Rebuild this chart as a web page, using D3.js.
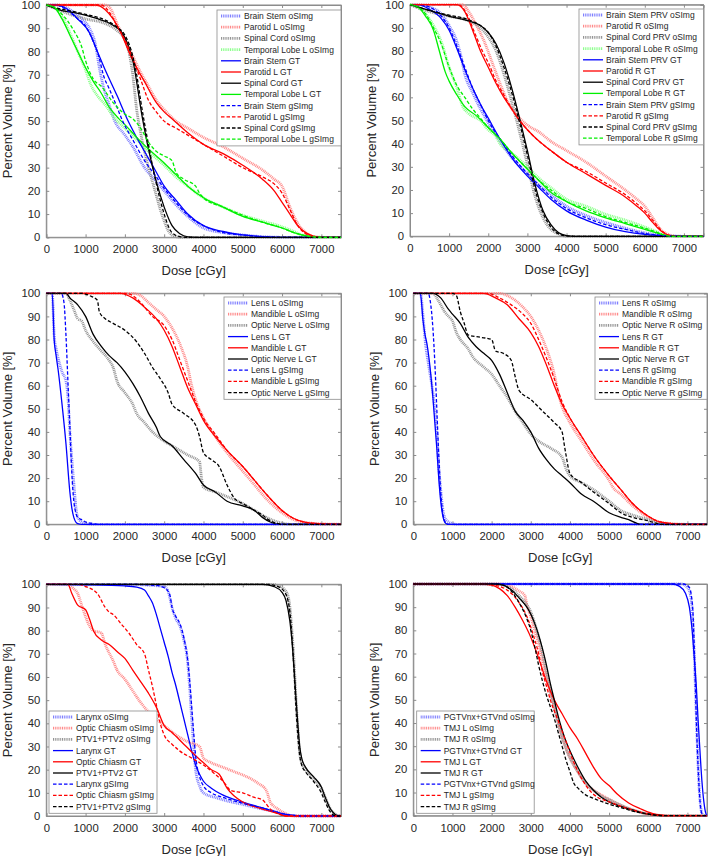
<!DOCTYPE html>
<html>
<head>
<meta charset="utf-8">
<script src="https://cdn.jsdelivr.net/npm/d3@7"></script>
<style>
  body { margin: 0; background: #fff; }
  svg { display: block; font-family: "Liberation Sans", Arial, sans-serif; }
</style>
</head>
<body>
<div id="chart"></div>
<script>
// ---- tick values ----
const doseTicks = [0, 1000, 2000, 3000, 4000, 5000, 6000, 7000];
const volumeTicks = [0, 10, 20, 30, 40, 50, 60, 70, 80, 90, 100];

// ---- panel 1 : brain stem / parotid L / spinal cord / temporal lobe L ----
const p1BrainStemO = [[0,100],[300,100],[600,98],[900,94],[1100,90],[1250,83],[1350,73],[1450,65],[1600,57],[1730,50.5],[2000,44],[2200,39],[2500,30],[2800,24],[3000,20],[3300,14],[3600,9],[4000,4],[4500,2],[5000,1],[5500,0.3],[6000,0],[7500,0]];
const p1ParotidLO = [[0,100],[1500,100],[1650,98],[1800,92],[2000,85],[2200,78],[2400,71],[2600,65],[2800,59],[3000,55],[3300,50],[3600,47],[4000,43],[4500,39],[5000,34],[5500,29],[5800,25],[6000,22],[6200,13],[6400,6],[6600,2],[6800,0.3],[7000,0],[7500,0]];
const p1SpinalCordO = [[0,100],[300,98],[600,96],[1000,94],[1500,92],[1800,89],[2000,85],[2100,80],[2200,70],[2300,55],[2400,45],[2500,37],[2600,30],[2700,24],[2800,18],[2900,12],[3000,7],[3100,3],[3200,1],[3400,0],[7500,0]];
const p1TemporalLO = [[0,100],[200,99],[400,95],[600,88],[800,80],[1000,72],[1150,65],[1300,61],[1500,57],[1750,51],[2000,47],[2300,42],[2600,37],[3000,31],[3300,26],[3600,22],[4000,17],[4500,13],[5000,9.5],[5500,7],[6000,4.5],[6300,2.5],[6500,1],[6800,0.2],[7000,0],[7500,0]];
const p1BrainStemGT = [[0,100],[250,100],[500,98.6],[800,94],[1100,88],[1300,80],[1500,72],[1800,61],[2070,50.5],[2300,43],[2600,34],[2800,28],[3000,22],[3300,16],[3600,10],[4000,5],[4500,2.5],[5000,1],[5500,0.3],[6000,0],[7500,0]];
const p1ParotidLGT = [[0,100],[1250,100],[1500,98],[1700,94],[1900,88],[2150,78],[2300,73],[2500,67],[2800,58],[3000,54],[3200,51],[3600,45],[4000,40],[4500,36],[5000,31],[5500,25],[5800,20],[6000,15],[6200,10],[6400,5],[6600,2],[6800,0.5],[7000,0],[7500,0]];
const p1SpinalCordGT = [[0,100],[300,98],[800,96.4],[1260,94.3],[1690,91.4],[1940,87.8],[2200,76.3],[2450,51],[2600,38],[2800,24],[3000,13],[3200,5],[3400,1.5],[3600,0.2],[3800,0],[7500,0]];
const p1TemporalLGT = [[0,100],[200,99],[400,94],[600,87],[800,80],[1000,73],[1200,67],[1400,62],[1600,56],[1850,51],[2000,48.5],[2300,43],[2600,38],[3000,32],[3300,27],[3600,22],[4000,17],[4500,13],[5000,9],[5500,6.5],[6000,4],[6300,2],[6500,1],[6800,0.2],[7000,0],[7500,0]];
const p1BrainStemG = [[0,100],[250,100],[500,98],[800,94],[1000,91],[1200,84],[1350,77],[1450,70],[1600,64],[1800,56],[1930,50.5],[2200,42],[2500,33],[2800,26],[3000,21],[3300,15],[3600,9.5],[4000,5],[4500,2],[5000,1],[5500,0.3],[6000,0],[7500,0]];
const p1ParotidLG = [[0,100],[1400,100],[1600,97],[1800,91],[2000,85],[2200,77],[2400,68],[2600,59],[2800,54],[3000,50],[3300,47],[3600,44],[4000,40],[4500,35],[5000,30],[5500,26],[5800,23],[6000,19],[6200,12],[6400,5],[6600,1.5],[6800,0.3],[7000,0],[7500,0]];
const p1SpinalCordG = [[0,100],[300,98.5],[600,97.5],[1000,96],[1500,93.5],[1800,90.5],[2000,87],[2200,78],[2300,70],[2400,59],[2500,49],[2600,40],[2700,31],[2800,23],[2900,16],[3000,10],[3100,5],[3200,2],[3400,0.3],[3600,0],[7500,0]];
const p1TemporalLG = [[0,100],[200,99],[400,96],[550,93],[700,89],[900,82],[1000,76],[1200,68],[1400,65],[1700,58],[2000,53],[2200,51],[2400,47],[2600,41],[2800,37],[3000,35],[3200,33],[3300,28],[3500,25],[3800,22],[3900,19],[4000,17],[4500,13],[5000,9.5],[5500,6.5],[6000,4],[6300,2],[6500,1],[6800,0.2],[7000,0],[7500,0]];

// ---- panel 2 : PRVs / parotid R / temporal lobe R ----
const p2BrainStemO = [[0,100],[200,100],[500,99],[800,96],[1000,91],[1200,84],[1300,78],[1400,70],[1600,62],[1800,55],[2000,49],[2300,41],[2600,34],[3000,27],[3300,22],[3600,18],[4000,13],[4500,9],[5000,6],[5500,3.5],[6000,1.5],[6500,0.5],[7000,0],[7500,0]];
const p2ParotidRO = [[0,100],[1350,100],[1500,97],[1700,91],[1900,84],[2100,75],[2300,66],[2500,58],[2700,53],[3000,48],[3300,45],[3600,41],[4000,37],[4500,32],[5000,26],[5500,20],[5800,16],[6000,13],[6200,8],[6400,3],[6600,0.8],[6800,0],[7500,0]];
const p2SpinalCordO = [[0,100],[300,98],[600,96.5],[1000,95],[1500,93],[1800,90],[2000,86],[2200,80],[2400,70],[2600,58],[2800,45],[3000,31],[3200,17],[3400,8],[3600,3],[3800,1],[4000,0],[7500,0]];
const p2TemporalRO = [[0,100],[200,99],[400,96],[600,91],[800,84],[1000,73],[1200,64],[1350,56],[1500,53],[1800,50],[2000,46],[2200,43],[2300,40],[2600,36],[3000,30],[3300,25],[3600,21],[4000,16],[4500,13],[5000,9.5],[5500,7],[6000,4],[6300,2],[6500,0.5],[6700,0],[7500,0]];
const p2BrainStemGT = [[0,100],[200,100],[500,98],[800,94],[1000,89],[1200,81],[1400,72],[1600,64],[1800,57],[2000,51],[2300,42],[2600,34],[3000,26],[3300,21],[3600,16],[4000,11],[4500,7],[5000,4],[5500,2],[6000,0.8],[6500,0.2],[7000,0],[7500,0]];
const p2ParotidRGT = [[0,100],[1200,100],[1400,97],[1600,89],[1800,80],[2000,73],[2200,66],[2400,60],[2600,55],[2800,50],[3000,46],[3300,41],[3600,37],[4000,32],[4500,27],[5000,22],[5500,17],[5800,13],[6000,10],[6200,6],[6400,2.5],[6600,0.5],[6800,0],[7500,0]];
const p2SpinalCordGT = [[0,100],[300,98.5],[600,97],[1000,95],[1500,93],[1800,91],[2000,88],[2200,83],[2400,75],[2600,64],[2800,51],[3000,37],[3200,22],[3400,11],[3600,5],[3800,1.5],[4000,0.3],[4200,0],[7500,0]];
const p2TemporalRGT = [[0,100],[200,99],[400,95],[600,89],[750,80],[900,71],[1000,67],[1200,61],[1400,56],[1700,52],[2000,47],[2300,42],[2600,36],[3000,29],[3300,24],[3600,19],[4000,15],[4500,11],[5000,8],[5500,5.5],[6000,3],[6300,1.5],[6500,0.5],[6700,0],[7500,0]];
const p2BrainStemG = [[0,100],[200,100],[500,99],[800,95],[1000,90],[1200,82],[1400,73],[1600,64],[1800,57],[2000,50],[2300,42],[2600,35],[3000,27],[3300,22],[3600,17],[4000,12],[4500,8],[5000,5],[5500,3],[6000,1.2],[6500,0.3],[7000,0],[7500,0]];
const p2ParotidRG = [[0,100],[1250,100],[1450,96],[1650,88],[1850,80],[2000,75],[2200,67],[2400,61],[2600,55],[2800,50],[3000,46],[3300,41],[3600,37],[4000,32],[4500,28],[5000,23],[5500,18],[5800,14],[6000,11],[6200,7],[6400,3],[6600,0.5],[6800,0],[7500,0]];
const p2SpinalCordG = [[0,100],[300,98.5],[600,97],[1000,95.5],[1500,93.5],[1800,91],[2000,88],[2200,82],[2400,73],[2600,62],[2800,49],[3000,35],[3200,20],[3400,10],[3600,4],[3800,1],[4000,0.2],[4200,0],[7500,0]];
const p2TemporalRG = [[0,100],[200,99],[400,96],[600,90],[800,83],[1000,73],[1200,65],[1400,60],[1600,55],[1800,51],[2000,47],[2300,42],[2600,36],[3000,29],[3300,24],[3600,20],[4000,15],[4500,12],[5000,8.5],[5500,6],[6000,3.5],[6300,1.8],[6500,0.5],[6700,0],[7500,0]];

// ---- panel 3 : lens L / mandible L / optic nerve L ----
const p3LensLO = [[0,100],[150,100],[200,82],[250,76],[300,72],[400,66],[500,62],[550,55],[600,40],[650,28],[700,18],[750,8],[800,3],[900,1],[1000,0.3],[1200,0],[7500,0]];
const p3MandibleLO = [[0,100],[2200,100],[2400,99],[2600,96],[2800,93],[3000,90],[3200,85],[3400,78],[3600,68],[3700,60],[3800,54],[4000,46],[4300,38],[4600,31],[5000,23],[5300,17],[5600,11],[6000,5],[6300,2],[6600,0.8],[7000,0.2],[7500,0]];
const p3OpticNerveLO = [[0,100],[500,100],[600,97],[700,93],[800,89],[900,88],[1000,84],[1200,79],[1400,75],[1600,71],[1700,68],[1800,62],[2000,57],[2200,52],[2300,48],[2500,44],[2700,40],[3000,36],[3300,33],[3600,30],[3900,27],[3950,20],[4000,16],[4300,14],[4600,12],[5000,9],[5300,6],[5600,3],[5800,1.5],[6000,0.5],[6200,0],[7500,0]];
const p3LensLGT = [[0,100],[150,100],[200,80],[250,73],[300,67],[400,52],[500,35],[600,14],[650,7],[700,3],[750,1],[800,0.3],[900,0],[7500,0]];
const p3MandibleLGT = [[0,100],[1900,100],[2200,98],[2500,94],[2800,89],[3000,84],[3200,77],[3400,68],[3600,59],[3800,52],[4000,45],[4300,38],[4600,32],[5000,25],[5300,19],[5600,13],[6000,6],[6300,2.5],[6600,0.8],[7000,0.2],[7500,0]];
const p3OpticNerveLGT = [[0,100],[500,100],[600,98],[800,95],[1000,90],[1200,82],[1400,77],[1600,73],[1800,70],[2000,66],[2200,61],[2400,55],[2600,48],[2800,42],[2900,38],[3200,34],[3500,28],[3800,22],[4000,17],[4300,14],[4600,10],[5000,8],[5300,6],[5500,3],[5700,1],[5900,0],[7500,0]];
const p3LensLG = [[0,100],[380,100],[450,96],[500,82],[550,62],[600,42],[650,22],[700,10],[750,5],[800,3],[900,2],[1000,1],[1200,0.3],[1300,0],[7500,0]];
const p3MandibleLG = [[0,100],[2000,100],[2200,99],[2400,96],[2700,90],[3000,86],[3200,80],[3400,71],[3600,62],[3800,53],[4000,46],[4300,39],[4600,32],[5000,25],[5300,19],[5600,13],[6000,6],[6300,2.5],[6600,0.8],[7000,0.2],[7500,0]];
const p3OpticNerveLG = [[0,100],[900,100],[1100,99],[1300,97],[1350,92],[1500,89],[1700,87],[2000,84],[2300,79],[2500,74],[2700,68],[2900,63],[3100,57],[3200,52],[3500,48],[3800,43],[3900,38],[4000,31],[4200,28],[4400,25],[4600,17],[4800,11],[5000,9],[5300,6],[5500,4],[5700,1.5],[5900,0.3],[6100,0],[7500,0]];

// ---- panel 4 : lens R / mandible R / optic nerve R ----
const p4LensRO = [[0,100],[180,100],[250,90],[300,80],[400,68],[500,57],[600,40],[650,25],[700,15],[750,7],[800,3],[900,1],[1000,0.3],[1100,0],[7500,0]];
const p4MandibleRO = [[0,100],[2200,100],[2400,99],[2600,97],[2800,94],[3000,90],[3200,84],[3400,76],[3600,65],[3700,57],[3800,51],[4000,44],[4300,36],[4600,28],[5000,19],[5100,16],[5300,13],[5600,8],[6000,3],[6300,1],[6600,0.3],[7000,0],[7500,0]];
const p4OpticNerveRO = [[0,100],[500,100],[600,98],[700,95],[800,92],[900,90],[1000,88],[1100,83],[1200,80],[1400,76],[1500,73],[1800,68],[2000,65],[2200,60],[2400,55],[2600,49],[2800,44],[3000,39],[3200,36],[3500,33],[3800,29],[3900,24],[4000,21],[4300,18],[4600,15],[5000,10],[5300,6],[5600,4],[6000,2],[6300,0.5],[6500,0],[7500,0]];
const p4LensRGT = [[0,100],[180,100],[250,88],[300,82],[350,78],[400,72],[500,55],[600,33],[650,20],[700,10],[750,4],[800,1],[850,0.2],[900,0],[7500,0]];
const p4MandibleRGT = [[0,100],[1800,100],[2100,98],[2400,95],[2700,89],[3000,83],[3200,77],[3400,69],[3600,60],[3800,52],[4000,46],[4300,38],[4600,30],[5000,21],[5300,15],[5600,9],[6000,3.5],[6300,1],[6600,0.3],[7000,0],[7500,0]];
const p4OpticNerveRGT = [[0,100],[500,100],[700,98],[900,93],[1000,91],[1200,87],[1400,81],[1600,77],[1800,74],[2000,71],[2200,65],[2400,57],[2600,49],[2800,45],[3000,40],[3200,33],[3400,28],[3600,24],[3800,21],[4000,18],[4300,13],[4600,10],[5000,5],[5300,3],[5500,2],[5700,0.5],[5800,0],[7500,0]];
const p4LensRG = [[0,100],[380,100],[430,97],[500,85],[550,70],[600,50],[650,30],[700,14],[750,5],[800,1.5],[850,0.3],[900,0],[7500,0]];
const p4MandibleRG = [[0,100],[1900,100],[2200,98],[2500,95],[2800,91],[3000,87],[3200,80],[3400,72],[3600,63],[3800,53],[4000,46],[4300,38],[4600,30],[5000,21],[5300,15],[5600,9],[6000,3.5],[6300,1],[6600,0.3],[7000,0],[7500,0]];
const p4OpticNerveRG = [[0,100],[1000,100],[1100,99],[1200,92],[1300,87],[1400,82],[1700,81],[2000,80],[2100,75],[2300,74],[2500,71],[2600,64],[2700,58],[3000,54],[3300,49],[3600,44],[3800,40],[3850,35],[3900,30],[4000,22],[4300,18],[4600,14],[5000,9],[5300,5],[5600,3],[6000,1.5],[6200,0.5],[6300,0],[7500,0]];

// ---- panel 5 : larynx / optic chiasm / PTV ----
const p5LarynxO = [[0,100],[2000,100],[2700,99.5],[3000,99],[3100,97],[3200,90],[3300,85],[3400,82],[3500,76],[3600,66],[3650,55],[3700,42],[3750,30],[3800,20],[3900,13],[4000,10],[4300,8],[4600,6.5],[5000,5],[5500,3],[5800,2],[6000,1],[6200,0.3],[6500,0],[7500,0]];
const p5ChiasmO = [[0,100],[500,100],[700,98],[800,96],[900,91],[1000,86],[1100,82],[1200,80],[1400,79],[1500,74],[1700,67],[1800,63],[2000,59],[2200,54],[2400,49],[2600,45],[2800,42],[3000,39],[3300,35],[3600,32],[3900,30],[4000,25],[4200,23],[4500,21],[4800,19],[5100,17],[5400,14],[5600,11],[5700,6],[5900,3],[6100,1],[6300,0],[7500,0]];
const p5PtvO = [[0,100],[5700,100],[5900,99.5],[6050,98],[6150,95],[6200,90],[6250,80],[6300,68],[6350,52],[6400,38],[6450,27],[6500,23],[6600,20],[6800,16],[7000,12],[7100,8],[7200,4],[7300,1.5],[7400,0.3],[7500,0]];
const p5LarynxGT = [[0,100],[1000,99.8],[2000,99.3],[2300,98.8],[2500,97.5],[2600,95],[2700,92],[2800,87],[2900,81],[3000,75],[3100,69],[3200,62],[3300,56],[3400,49],[3500,42],[3600,35],[3700,28],[3800,22],[3900,18],[4000,15],[4200,12],[4500,9],[5000,6],[5500,3.5],[5800,2],[6000,1],[6300,0.3],[6500,0],[7500,0]];
const p5ChiasmGT = [[0,100],[550,100],[650,96],[800,91],[1000,89],[1100,85],[1200,80],[1400,76],[1600,74],[1800,71],[2000,68],[2200,63],[2400,58],[2600,53],[2800,47],[3000,39],[3200,36],[3500,31],[3800,26],[4000,23],[4200,20],[4400,18],[4600,12],[5000,6],[5300,4],[5600,2.5],[5900,1],[6100,0],[7500,0]];
const p5PtvGT = [[0,100],[5500,100],[5800,99],[6000,96.5],[6100,93],[6200,84],[6250,76],[6300,65],[6350,52],[6400,40],[6450,30],[6500,25],[6600,21],[6800,17],[7000,12.5],[7100,8],[7200,4],[7300,1.5],[7400,0.2],[7500,0]];
const p5LarynxG = [[0,100],[2000,100],[2800,99.5],[3000,98.5],[3100,97],[3150,95],[3200,90],[3300,86],[3400,83],[3500,77],[3600,67],[3650,58],[3700,47],[3750,36],[3800,26],[3900,17],[4000,13],[4200,10],[4500,8],[5000,5.5],[5500,3.5],[5800,2],[6000,1],[6300,0.3],[6500,0],[7500,0]];
const p5ChiasmG = [[0,100],[800,100],[1000,99],[1200,97.5],[1300,96],[1500,90],[1600,88],[1700,87],[1900,83],[2100,79],[2300,74],[2500,70],[2600,63],[2700,56],[2800,48],[2900,40],[3000,35],[3200,31],[3400,28],[3700,25],[4000,22],[4300,18],[4500,15],[4700,11],[5000,10],[5300,8],[5500,7],[5700,3],[5900,1],[6100,0],[7500,0]];
const p5PtvG = [[0,100],[5600,100],[5900,99],[6050,97],[6150,93],[6200,88],[6250,78],[6300,64],[6350,48],[6400,35],[6450,26],[6500,22],[6600,19],[6800,15],[7000,10],[7100,6],[7200,2.5],[7300,0.5],[7400,0],[7500,0]];

// ---- panel 6 : PGTV / TMJ L / TMJ R ----
const p6PgtvO = [[0,100],[6850,100],[7000,98.5],[7080,95],[7130,87],[7170,72],[7210,52],[7250,32],[7290,15],[7330,5],[7370,1],[7400,0],[7500,0]];
const p6TmjLO = [[0,100],[2200,100],[2500,99],[2700,97],[2850,95],[2900,91],[3000,86],[3100,80],[3200,74],[3300,67],[3400,60],[3500,53],[3600,47],[3700,40],[3800,34],[3900,29],[4000,25],[4200,19],[4400,14],[4600,11],[4800,9],[5000,7],[5300,4.5],[5600,2.5],[5900,1],[6200,0.3],[6500,0],[7500,0]];
const p6TmjRO = [[0,100],[2000,100],[2300,99.5],[2500,98],[2700,95],[2900,91],[3000,88],[3100,83],[3200,77],[3300,70],[3400,62],[3500,54],[3600,47],[3700,40],[3800,34],[3900,29],[4000,25],[4200,19],[4400,14],[4600,11],[4800,8.5],[5000,7],[5300,4.5],[5600,2.5],[5900,1],[6200,0.2],[6400,0],[7500,0]];
const p6PgtvGT = [[0,100],[6600,100],[6800,99],[6950,96],[7050,90],[7120,80],[7180,67],[7230,55],[7270,42],[7320,28],[7370,15],[7420,6],[7470,1],[7500,0]];
const p6TmjLGT = [[0,100],[1700,100],[2000,99.5],[2200,98],[2400,95],[2600,90],[2800,84],[3000,77],[3200,68],[3400,58],[3600,50],[3800,44],[4000,38],[4200,33],[4400,27],[4600,21],[4800,16],[5000,13],[5200,9.5],[5500,5.5],[5800,3],[6100,1],[6300,0.3],[6500,0],[7500,0]];
const p6TmjRGT = [[0,100],[2100,100],[2300,99.5],[2500,97.5],[2700,94],[2900,90],[3000,87],[3100,83],[3200,78],[3300,72],[3400,65],[3500,57],[3600,50],[3700,43],[3800,37],[3900,32],[4000,28],[4200,21],[4400,15],[4600,11],[4800,8],[5000,6],[5300,4],[5600,2.5],[5900,1],[6200,0.2],[6400,0],[7500,0]];
const p6PgtvG = [[0,100],[6900,100],[7050,98.5],[7100,95],[7140,88],[7170,75],[7200,58],[7230,40],[7270,22],[7310,9],[7340,3],[7380,0.5],[7400,0],[7500,0]];
const p6TmjLG = [[0,100],[1800,100],[2200,99],[2500,96],[2700,92],[2900,86],[3100,76],[3200,70],[3300,62],[3400,56],[3500,50],[3700,41],[3900,32],[4100,23],[4300,16],[4500,11],[4700,8],[5000,6],[5300,4],[5600,2.5],[5900,1],[6200,0.2],[6400,0],[7500,0]];
const p6TmjRG = [[0,100],[2100,100],[2300,99.5],[2500,97],[2700,92],[2900,85],[3000,80],[3100,73],[3200,65],[3300,58],[3400,52],[3500,47],[3600,42],[3700,36],[3800,30],[3900,24],[4000,19],[4100,14],[4200,12],[4400,9],[4600,7.5],[5000,5],[5300,3.5],[5600,2],[5900,1],[6200,0.2],[6400,0],[7500,0]];

// full colours for GT / gSImg, pale ones for the thick dotted oSImg curves
const COLORS = {
    blue:  { full: "#0000ff", pale: "#8080ff" },
    red:   { full: "#ff0000", pale: "#ff8a8a" },
    black: { full: "#000000", pale: "#959595" },
    green: { full: "#00f000", pale: "#8cff8c" }
};

const STYLES = {
    o:  { width: 2.8, dash: "1 0.8", pale: true },
    gt: { width: 1.3, dash: null,    pale: false },
    g:  { width: 1.3, dash: "3.5 2", pale: false }
};

// each panel: plot box in page pixels, legend box and its entries (legend order = draw order)
const PANELS = [
    { x0: 46.3, x1: 341, y0: 5, y1: 237.3, legend: { x: 217, y: 10, w: 124 },
      series: [
        ["Brain Stem oSImg", p1BrainStemO, "blue", "o"],
        ["Parotid L oSImg", p1ParotidLO, "red", "o"],
        ["Spinal Cord oSImg", p1SpinalCordO, "black", "o"],
        ["Temporal Lobe L oSImg", p1TemporalLO, "green", "o"],
        ["Brain Stem GT", p1BrainStemGT, "blue", "gt"],
        ["Parotid L GT", p1ParotidLGT, "red", "gt"],
        ["Spinal Cord GT", p1SpinalCordGT, "black", "gt"],
        ["Temporal Lobe L GT", p1TemporalLGT, "green", "gt"],
        ["Brain Stem gSImg", p1BrainStemG, "blue", "g"],
        ["Parotid L gSImg", p1ParotidLG, "red", "g"],
        ["Spinal Cord gSImg", p1SpinalCordG, "black", "g"],
        ["Temporal Lobe L gSImg", p1TemporalLG, "green", "g"]
      ] },
    { x0: 410, x1: 703.5, y0: 4.7, y1: 236.3, legend: { x: 579, y: 9, w: 124.5 },
      series: [
        ["Brain Stem PRV oSImg", p2BrainStemO, "blue", "o"],
        ["Parotid R oSImg", p2ParotidRO, "red", "o"],
        ["Spinal Cord PRV oSImg", p2SpinalCordO, "black", "o"],
        ["Temporal Lobe R oSImg", p2TemporalRO, "green", "o"],
        ["Brain Stem PRV GT", p2BrainStemGT, "blue", "gt"],
        ["Parotid R GT", p2ParotidRGT, "red", "gt"],
        ["Spinal Cord PRV GT", p2SpinalCordGT, "black", "gt"],
        ["Temporal Lobe R GT", p2TemporalRGT, "green", "gt"],
        ["Brain Stem PRV gSImg", p2BrainStemG, "blue", "g"],
        ["Parotid R gSImg", p2ParotidRG, "red", "g"],
        ["Spinal Cord PRV gSImg", p2SpinalCordG, "black", "g"],
        ["Temporal Lobe R gSImg", p2TemporalRG, "green", "g"]
      ] },
    { x0: 46.3, x1: 341, y0: 293.3, y1: 524.3, legend: { x: 224, y: 297, w: 117 },
      series: [
        ["Lens L oSImg", p3LensLO, "blue", "o"],
        ["Mandible L oSImg", p3MandibleLO, "red", "o"],
        ["Optic Nerve L oSImg", p3OpticNerveLO, "black", "o"],
        ["Lens L GT", p3LensLGT, "blue", "gt"],
        ["Mandible L GT", p3MandibleLGT, "red", "gt"],
        ["Optic Nerve L GT", p3OpticNerveLGT, "black", "gt"],
        ["Lens L gSImg", p3LensLG, "blue", "g"],
        ["Mandible L gSImg", p3MandibleLG, "red", "g"],
        ["Optic Nerve L gSImg", p3OpticNerveLG, "black", "g"]
      ] },
    { x0: 413.3, x1: 707, y0: 293.3, y1: 524.3, legend: { x: 595, y: 297, w: 112 },
      series: [
        ["Lens R oSImg", p4LensRO, "blue", "o"],
        ["Mandible R oSImg", p4MandibleRO, "red", "o"],
        ["Optic Nerve R oSImg", p4OpticNerveRO, "black", "o"],
        ["Lens R GT", p4LensRGT, "blue", "gt"],
        ["Mandible R GT", p4MandibleRGT, "red", "gt"],
        ["Optic Nerve R GT", p4OpticNerveRGT, "black", "gt"],
        ["Lens R gSImg", p4LensRG, "blue", "g"],
        ["Mandible R gSImg", p4MandibleRG, "red", "g"],
        ["Optic Nerve R gSImg", p4OpticNerveRG, "black", "g"]
      ] },
    { x0: 46.3, x1: 341, y0: 584.3, y1: 816, legend: { x: 49, y: 711, w: 108 },
      series: [
        ["Larynx oSImg", p5LarynxO, "blue", "o"],
        ["Optic Chiasm oSImg", p5ChiasmO, "red", "o"],
        ["PTV1+PTV2 oSImg", p5PtvO, "black", "o"],
        ["Larynx GT", p5LarynxGT, "blue", "gt"],
        ["Optic Chiasm GT", p5ChiasmGT, "red", "gt"],
        ["PTV1+PTV2 GT", p5PtvGT, "black", "gt"],
        ["Larynx gSImg", p5LarynxG, "blue", "g"],
        ["Optic Chiasm gSImg", p5ChiasmG, "red", "g"],
        ["PTV1+PTV2 gSImg", p5PtvG, "black", "g"]
      ] },
    { x0: 413.3, x1: 707, y0: 584, y1: 815.7, legend: { x: 416.7, y: 711, w: 117.5 },
      series: [
        ["PGTVnx+GTVnd oSImg", p6PgtvO, "blue", "o"],
        ["TMJ L oSImg", p6TmjLO, "red", "o"],
        ["TMJ R oSImg", p6TmjRO, "black", "o"],
        ["PGTVnx+GTVnd GT", p6PgtvGT, "blue", "gt"],
        ["TMJ L GT", p6TmjLGT, "red", "gt"],
        ["TMJ R GT", p6TmjRGT, "black", "gt"],
        ["PGTVnx+GTVnd gSImg", p6PgtvG, "blue", "g"],
        ["TMJ L gSImg", p6TmjLG, "red", "g"],
        ["TMJ R gSImg", p6TmjRG, "black", "g"]
      ] }
];

const W = 709, H = 856;
const AXIS_COLOR = "#8c8c8c";
const TEXT_COLOR = "#262626";
const ROW_H = 11.2;

const svg = d3.select("#chart").append("svg")
    .attr("width", W).attr("height", H)
    .attr("viewBox", `0 0 ${W} ${H}`);

function strokeLine(sel, colorKey, styleKey) {
    const st = STYLES[styleKey];
    const c = COLORS[colorKey];
    sel.attr("fill", "none")
        .attr("stroke", st.pale ? c.pale : c.full)
        .attr("stroke-width", st.width)
        .attr("stroke-dasharray", st.dash);
    return sel;
}

function drawPanel(p, idx) {
    const x = d3.scaleLinear().domain([0, 7500]).range([p.x0, p.x1]);
    const y = d3.scaleLinear().domain([0, 100]).range([p.y1, p.y0]);
    const g = svg.append("g");

    g.append("rect")
        .attr("x", p.x0).attr("y", p.y0)
        .attr("width", p.x1 - p.x0).attr("height", p.y1 - p.y0)
        .attr("fill", "#fff").attr("stroke", AXIS_COLOR).attr("stroke-width", 1);

    // MATLAB-style box: inward ticks on all four sides, labels only bottom/left
    const fmt = d3.format("d");
    const axes = [
        [d3.axisBottom(x).tickValues(doseTicks).tickSize(-3).tickPadding(8).tickFormat(fmt), `translate(0,${p.y1})`],
        [d3.axisTop(x).tickValues(doseTicks).tickSize(-3).tickFormat(""), `translate(0,${p.y0})`],
        [d3.axisLeft(y).tickValues(volumeTicks).tickSize(-3).tickPadding(6).tickFormat(fmt), `translate(${p.x0},0)`],
        [d3.axisRight(y).tickValues(volumeTicks).tickSize(-3).tickFormat(""), `translate(${p.x1},0)`]
    ];
    axes.forEach(([axis, tr]) => {
        const a = g.append("g").attr("transform", tr).call(axis);
        a.select(".domain").attr("stroke", AXIS_COLOR);
        a.selectAll(".tick line").attr("stroke", AXIS_COLOR);
        a.selectAll(".tick text")
            .attr("fill", TEXT_COLOR)
            .style("font-size", "11.3px")
            .style("font-family", "'Liberation Sans', Arial, sans-serif");
    });

    g.append("text")
        .attr("x", (p.x0 + p.x1) / 2).attr("y", p.y1 + 38)
        .attr("text-anchor", "middle")
        .attr("fill", TEXT_COLOR).style("font-size", "13px")
        .text("Dose [cGy]");
    g.append("text")
        .attr("transform", `translate(${p.x0 - 34},${(p.y0 + p.y1) / 2}) rotate(-90)`)
        .attr("text-anchor", "middle")
        .attr("fill", TEXT_COLOR).style("font-size", "13px")
        .text("Percent Volume [%]");

    const clipId = `clip${idx}`;
    svg.append("clipPath").attr("id", clipId).append("rect")
        .attr("x", p.x0 - 2).attr("y", p.y0 - 2)
        .attr("width", p.x1 - p.x0 + 4).attr("height", p.y1 - p.y0 + 4);

    const line = d3.line()
        .x(d => x(d[0]))
        .y(d => y(d[1]))
        .curve(d3.curveMonotoneX);

    const lines = g.append("g").attr("clip-path", `url(#${clipId})`);
    p.series.forEach(([name, data, color, style]) => {
        lines.append("path").datum(data).attr("d", line).call(strokeLine, color, style);
    });

    // legend
    const L = p.legend;
    const lg = g.append("g").attr("transform", `translate(${L.x},${L.y})`);
    lg.append("rect")
        .attr("width", L.w).attr("height", p.series.length * ROW_H + 1.5)
        .attr("fill", "#fff").attr("stroke", AXIS_COLOR).attr("stroke-width", 0.8);
    p.series.forEach(([name, , color, style], i) => {
        const cy = 6 + i * ROW_H;
        lg.append("line")
            .attr("x1", 4).attr("x2", 24).attr("y1", cy).attr("y2", cy)
            .call(strokeLine, color, style);
        lg.append("text")
            .attr("x", 27).attr("y", cy + 3)
            .attr("fill", TEXT_COLOR).style("font-size", "8.5px")
            .text(name);
    });
}

PANELS.forEach(drawPanel);
</script>
</body>
</html>
